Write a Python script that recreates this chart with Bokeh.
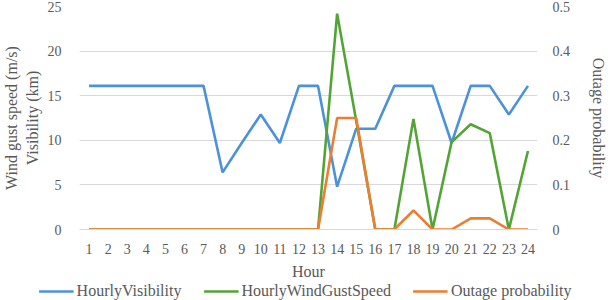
from bokeh.plotting import figure
from bokeh.layouts import column
from bokeh.models import Range1d, LinearAxis, FixedTicker, Legend, LegendItem, CustomJSTickFormatter
from bokeh.embed import file_html
from bokeh.resources import INLINE

hours = list(range(1, 25))
visibility = [16.1, 16.1, 16.1, 16.1, 16.1, 16.1, 16.1, 6.4, 9.7, 12.9, 9.7, 16.1,
              16.1, 4.8, 11.3, 11.3, 16.1, 16.1, 16.1, 9.7, 16.1, 16.1, 12.9, 16.1]
wind_gust = [0, 0, 0, 0, 0, 0, 0, 0, 0, 0, 0, 0,
             0, 24.2, 12.2, 0, 0, 12.4, 0, 9.8, 11.8, 10.8, 0, 8.8]
outage = [0, 0, 0, 0, 0, 0, 0, 0, 0, 0, 0, 0,
          0, 0.25, 0.25, 0, 0, 0.043, 0, 0, 0.025, 0.025, 0, 0]
series_names = ["HourlyVisibility", "HourlyWindGustSpeed", "Outage probability"]
left_ticks = [0, 5, 10, 15, 20, 25]
right_ticks = [0, 0.1, 0.2, 0.3, 0.4, 0.5]

FONT = "Liberation Serif"
GREY = "#595959"
GRID = "#d9d9d9"
BLUE = "#4B92DB"
GREEN = "#52A535"
ORANGE = "#ED7D31"
COLORS = [BLUE, GREEN, ORANGE]
SERIES = [visibility, wind_gust, outage]

p = figure(width=610, height=282, output_backend="svg", toolbar_location=None,
           x_range=Range1d(0.5, 24.5), y_range=Range1d(0, 25),
           min_border_left=69, min_border_right=60, min_border_top=6, min_border_bottom=53)
p.outline_line_color = None
p.background_fill_color = "white"
p.border_fill_color = "white"
p.extra_y_ranges = {"prob": Range1d(0, 0.5)}

p.line(hours, visibility, line_color=BLUE, line_width=2.6)
p.line(hours, wind_gust, line_color=GREEN, line_width=2.6)
p.line(hours, outage, line_color=ORANGE, line_width=2.6, y_range_name="prob")

p.xgrid.visible = False
p.ygrid.grid_line_color = GRID
p.ygrid.ticker = FixedTicker(ticks=left_ticks)

xa = p.xaxis[0]
xa.ticker = FixedTicker(ticks=hours)
xa.axis_label = "Hour"
xa.axis_line_color = GRID
xa.major_tick_line_color = None
xa.minor_tick_line_color = None
xa.major_label_standoff = 8
xa.axis_label_standoff = 6

ya = p.yaxis[0]
ya.ticker = FixedTicker(ticks=left_ticks)
ya.axis_label = "Wind gust speed (m/s)\nVisibility (km)"
ya.axis_line_color = None
ya.major_tick_line_color = None
ya.minor_tick_line_color = None
ya.major_label_standoff = 12
ya.axis_label_standoff = 4

ra = LinearAxis(y_range_name="prob", ticker=FixedTicker(ticks=right_ticks),
                formatter=CustomJSTickFormatter(code="return tick.toString();"),
                axis_label="Outage probability")
ra.axis_line_color = None
ra.major_tick_line_color = None
ra.minor_tick_line_color = None
ra.major_label_standoff = 9
ra.axis_label_standoff = 17
p.add_layout(ra, "right")

for ax in [xa, ya, ra]:
    ax.major_label_text_font = FONT
    ax.major_label_text_font_size = "14px"
    ax.major_label_text_color = GREY
    ax.axis_label_text_font = FONT
    ax.axis_label_text_font_size = "16px"
    ax.axis_label_text_font_style = "normal"
    ax.axis_label_text_color = GREY

# legend strip underneath (its sample lines sit outside the strip's visible range)
lg = figure(width=610, height=18, output_backend="svg", toolbar_location=None,
            x_range=Range1d(100, 101), y_range=Range1d(100, 101),
            min_border_left=0, min_border_right=0, min_border_top=0, min_border_bottom=0)
lg.axis.visible = False
lg.grid.visible = False
lg.outline_line_color = None
lg.border_fill_color = "white"
lg.background_fill_color = "white"

can_unalign = "frame_align" in lg.properties()
if can_unalign:
    p.frame_align = False
    lg.frame_align = False

items = []
for name, col, vals in zip(series_names, COLORS, SERIES):
    r = lg.line(hours, vals, line_color=col, line_width=2.6)
    items.append(LegendItem(label=name, renderers=[r]))

legend = Legend(items=items, orientation="horizontal", location="center")
legend.label_text_font = FONT
legend.label_text_color = GREY
legend.label_height = 16
legend.glyph_height = 16
if can_unalign:
    legend.label_text_font_size = "16px"
    legend.glyph_width = 35
    legend.spacing = 22
else:
    legend.label_text_font_size = "14px"
    legend.glyph_width = 28
    legend.spacing = 14
legend.label_standoff = 3
legend.padding = 1
legend.margin = 0
legend.border_line_color = None
legend.background_fill_alpha = 0
lg.add_layout(legend)

layout = column(p, lg, spacing=0)
open("out.html", "w").write(file_html(layout, INLINE))
